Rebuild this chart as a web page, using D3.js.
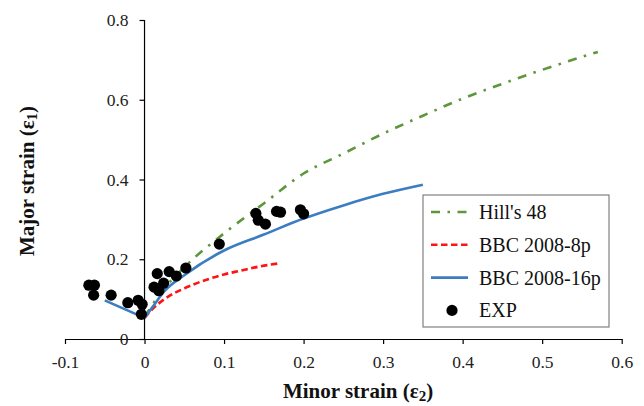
<!DOCTYPE html>
<html lang="en">
<head>
<meta charset="UTF-8">
<title>forming limit curves</title>
<script src="https://d3js.org/d3.v7.min.js"></script>
<style>
    body{ margin:0; background:#fff; }
    svg text{ font-family:"Liberation Serif","DejaVu Serif",serif; }
    .axis text{ font-size:17.5px; fill:#222; }
    .axis path, .axis line{ stroke:#000; stroke-width:1.2; }
    .title{ font-size:21px; font-weight:bold; fill:#111; }
    .legend text{ font-size:20px; fill:#111; }
</style>
</head>
<body>
<div id="fig"></div>
<script>
    // minor strain / major strain
    let hill_x = [0, 0.02, 0.05, 0.1, 0.15, 0.2, 0.25, 0.3, 0.35, 0.4, 0.45, 0.5, 0.57]
    let hill_y = [0.055, 0.115, 0.18, 0.265, 0.34, 0.415, 0.465, 0.515, 0.56, 0.603, 0.64, 0.675, 0.72]

    let bbc8_x = [0, 0.01, 0.025, 0.05, 0.08, 0.1, 0.12, 0.145, 0.17]
    let bbc8_y = [0.053, 0.075, 0.1, 0.127, 0.15, 0.162, 0.171, 0.182, 0.19]

    let bbc16_x = [-0.05, 0, 0.01, 0.025, 0.05, 0.1, 0.15, 0.2, 0.25, 0.3, 0.35]
    let bbc16_y = [0.097, 0.053, 0.08, 0.12, 0.16, 0.222, 0.262, 0.302, 0.335, 0.364, 0.387]

    let exp_x = [-0.070, -0.063, -0.064, -0.042, -0.021, -0.008, -0.003, -0.004, 0.016, 0.012, 0.018, 0.024,
                 0.031, 0.040, 0.052, 0.094, 0.140, 0.143, 0.152, 0.166, 0.171, 0.196, 0.200]
    let exp_y = [0.135, 0.135, 0.110, 0.110, 0.091, 0.097, 0.087, 0.062, 0.164, 0.130, 0.121, 0.140,
                 0.169, 0.158, 0.178, 0.238, 0.315, 0.298, 0.288, 0.320, 0.318, 0.324, 0.314]

    let x_ticks = [-0.1, 0, 0.1, 0.2, 0.3, 0.4, 0.5, 0.6]
    let y_ticks = [0, 0.2, 0.4, 0.6, 0.8]
    let legend_names = ["Hill's 48", "BBC 2008-8p", "BBC 2008-16p", "EXP"]

    let W = 644, H = 406
    let svg = d3.select("#fig").append("svg").attr("width", W).attr("height", H)

    let xScale = d3.scaleLinear().domain([-0.1, 0.6]).range([65, 621.7])
    let yScale = d3.scaleLinear().domain([0, 0.8]).range([339, 20])
    let fmt = function (d) { return d === 0 ? "0" : d3.format(".1f")(d).replace("−", "-") }

    // x axis sits on y = 0
    let gx = svg.append("g").attr("class", "axis")
        .attr("transform", `translate(0,${yScale(0)})`)
        .call(d3.axisBottom(xScale).tickValues(x_ticks).tickFormat(fmt).tickSize(5).tickSizeOuter(0).tickPadding(12))
    gx.attr("font-family", null)

    // y axis sits on x = 0
    let gy = svg.append("g").attr("class", "axis")
        .attr("transform", `translate(${xScale(0)},0)`)
        .call(d3.axisLeft(yScale).tickValues(y_ticks).tickFormat(fmt).tickSize(5).tickSizeOuter(0).tickPadding(11))
    gy.attr("font-family", null)
    gy.select(".domain").attr("d", `M0,${yScale(0)}V${yScale(0.8)}`)

    function series(X, Y) { return X.map(function (d, i) { return [d, Y[i]] }) }
    let line = d3.line().x(function (d) { return xScale(d[0]) }).y(function (d) { return yScale(d[1]) })
        .curve(d3.curveMonotoneX)
    let line2 = d3.line().x(function (d) { return xScale(d[0]) }).y(function (d) { return yScale(d[1]) })

    let styles = [
        {color: "#5e963b", dash: "9,7.5,2.5,7.5"},
        {color: "#ff1414", dash: "6.5,3.5"},
        {color: "#3b7dc2", dash: null}
    ]

    svg.append("path").datum(series(hill_x, hill_y))
        .attr("d", line).attr("fill", "none").attr("stroke", styles[0].color)
        .attr("stroke-width", 2.6).attr("stroke-dasharray", styles[0].dash)

    svg.append("path").datum(series(bbc8_x, bbc8_y))
        .attr("d", line).attr("fill", "none").attr("stroke", styles[1].color)
        .attr("stroke-width", 2.6).attr("stroke-dasharray", styles[1].dash)

    svg.append("path").datum(series(bbc16_x.slice(0, 2), bbc16_y.slice(0, 2)))
        .attr("d", line2).attr("fill", "none").attr("stroke", styles[2].color).attr("stroke-width", 2.6)
    svg.append("path").datum(series(bbc16_x.slice(1), bbc16_y.slice(1)))
        .attr("d", line).attr("fill", "none").attr("stroke", styles[2].color).attr("stroke-width", 2.6)

    svg.selectAll(".pt")
        .data(exp_x)
        .enter()
        .append("circle").attr("class", "pt")
        .attr("cx", function (d) { return xScale(d) })
        .attr("cy", function (d, i) { return yScale(exp_y[i]) })
        .attr("r", 5.6)
        .attr("fill", "#000")

    // axis titles
    let tx = svg.append("text").attr("class", "title")
        .attr("x", 358).attr("y", 398).attr("text-anchor", "middle")
    tx.append("tspan").text("Minor strain (ε")
    tx.append("tspan").attr("dy", 3).attr("font-size", "15px").text("2")
    tx.append("tspan").attr("dy", -3).text(")")

    let ty = svg.append("text").attr("class", "title")
        .attr("transform", "translate(34,181) rotate(-90)").attr("text-anchor", "middle")
    ty.append("tspan").text("Major strain (ε")
    ty.append("tspan").attr("dy", 3).attr("font-size", "15px").text("1")
    ty.append("tspan").attr("dy", -3).text(")")

    // legend
    let lg = svg.append("g").attr("class", "legend")
    lg.append("rect").attr("x", 423).attr("y", 195).attr("width", 186).attr("height", 132)
        .attr("fill", "#fff").attr("stroke", "#808080").attr("stroke-width", 1.2)
    legend_names.forEach(function (name, i) {
        let cy = 212 + i * 32.8
        if (i < 3) {
            lg.append("line").attr("x1", 431).attr("x2", 468).attr("y1", cy).attr("y2", cy)
                .attr("stroke", styles[i].color).attr("stroke-width", 2.6)
                .attr("stroke-dasharray", styles[i].dash)
        } else {
            lg.append("circle").attr("cx", 452).attr("cy", cy).attr("r", 5.6).attr("fill", "#000")
        }
        lg.append("text").attr("x", 479).attr("y", cy + 7).text(name)
    })
</script>
</body>
</html>
